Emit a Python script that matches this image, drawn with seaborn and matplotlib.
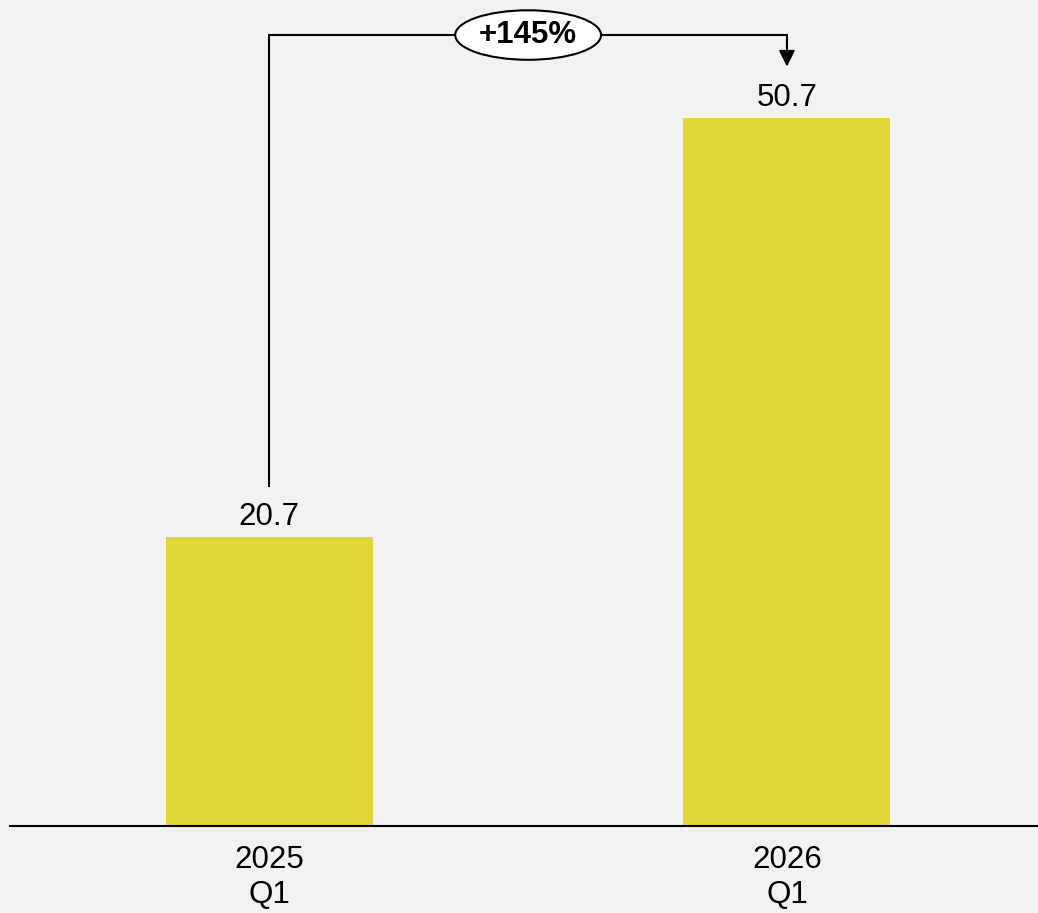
import matplotlib
matplotlib.use("Agg")
import matplotlib.pyplot as plt
import seaborn as sns
import pandas as pd

categories = ["2025\nQ1", "2026\nQ1"]
values = [20.7, 50.7]
value_labels = ["20.7", "50.7"]
change_label = "+145%"

BG = "#F2F2F2"
BAR = "#E2D638"

sns.set_theme(style="white")
plt.rcParams["font.family"] = ["Liberation Sans", "DejaVu Sans"]

df = pd.DataFrame({"cat": categories, "val": values})

fig = plt.figure(figsize=(10.38, 9.13), dpi=100, facecolor=BG)
H = 913.0
W = 1038.0
ax = fig.add_axes([10 / W, (H - 826) / H, 1028 / W, 826 / H])
ax.set_facecolor(BG)

sns.barplot(data=df, x="cat", y="val", color=BAR, width=0.4, saturation=1,
            linewidth=0, edgecolor=BAR, ax=ax)

ax.set_ylim(0, 59.17)
ax.set_xlim(-0.501, 1.485)

for s in ["top", "right", "left"]:
    ax.spines[s].set_visible(False)
ax.spines["bottom"].set_color("black")
ax.spines["bottom"].set_linewidth(1.5)
ax.spines["bottom"].set_zorder(5)
ax.set_yticks([])
ax.set_xlabel("")
ax.set_ylabel("")
ax.tick_params(axis="x", length=0, pad=14, labelsize=22.5, colors="black")
ax.set_xticks(range(len(categories)))
ax.set_xticklabels(categories, linespacing=1.2)

for i, (v, lab) in enumerate(zip(values, value_labels)):
    ax.annotate(lab, xy=(i, v), xytext=(0, 12), textcoords="offset pixels",
                ha="center", va="baseline", fontsize=22.5, color="black")

# connector
y_top = 56.66
ax.plot([0, 0, 1, 1], [24.3, y_top, y_top, 56.0], color="black", lw=1.5,
        solid_joinstyle="miter", solid_capstyle="butt")
ax.annotate("", xy=(1, 54.4), xytext=(1, 56.2),
            arrowprops=dict(arrowstyle="-|>", color="black", lw=1.5,
                            mutation_scale=24, shrinkA=0, shrinkB=0))
ax.text(0.5, y_top, change_label, ha="center", va="center", fontsize=22.5,
        fontweight="bold", color="black",
        bbox=dict(boxstyle="ellipse,pad=0.08", fc="white", ec="black", lw=1.5))

fig.savefig("out.png", dpi=100, facecolor=BG)
